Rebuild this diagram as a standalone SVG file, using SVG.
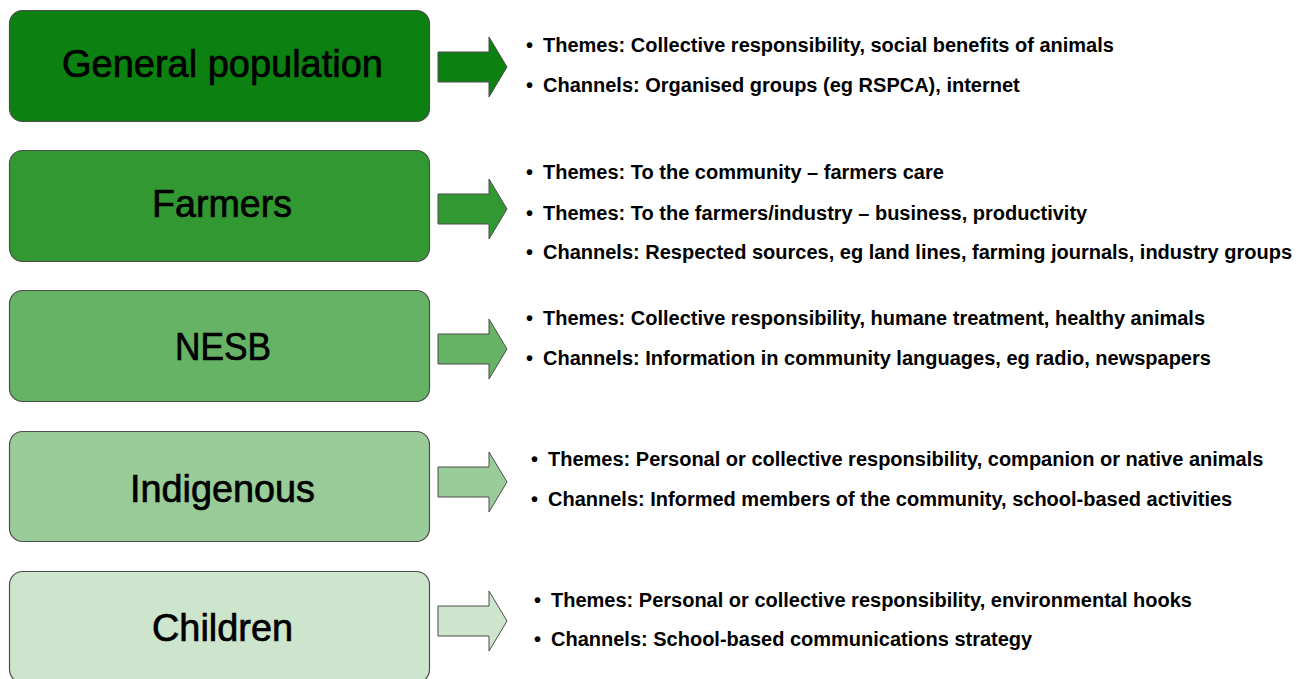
<svg xmlns="http://www.w3.org/2000/svg" width="1309" height="679" viewBox="0 0 1309 679">
  <style>
    .box { stroke: #4d4d4d; stroke-width: 1.2; }
    .arrow { stroke: #4d4d4d; stroke-width: 1; stroke-linejoin: miter; }
    .label { font-family: "Liberation Sans", Arial, sans-serif; font-size: 38px; fill: #000; stroke: #000; stroke-width: 0.7; }
    .item { font-family: "Liberation Sans", Arial, sans-serif; font-size: 20px; font-weight: bold; fill: #000; }
    .g1 { fill: #0c8011; }
    .g2 { fill: #329932; }
    .g3 { fill: #66b365; }
    .g4 { fill: #99cc98; }
    .g5 { fill: #cce5cc; }
  </style>
  <defs>
    <!-- block arrow pointing right, centred on y=0 -->
    <path id="blockArrow" d="M438,-15 H489 V-30 L507,0 L489,30 V15 H438 Z"/>
  </defs>
  <rect width="1309" height="679" fill="#ffffff"/>

  <g id="general-population">
    <rect class="box g1" x="9.5" y="10.5" width="420" height="111" rx="13"/>
    <text class="label" x="62" y="77" textLength="321" lengthAdjust="spacingAndGlyphs">General population</text>
  </g>
  <g id="farmers">
    <rect class="box g2" x="9.5" y="150.5" width="420" height="111" rx="13"/>
    <text class="label" x="152" y="217" textLength="140" lengthAdjust="spacingAndGlyphs">Farmers</text>
  </g>
  <g id="nesb">
    <rect class="box g3" x="9.5" y="290.5" width="420" height="111" rx="13"/>
    <text class="label" x="175" y="360" textLength="96" lengthAdjust="spacingAndGlyphs">NESB</text>
  </g>
  <g id="indigenous">
    <rect class="box g4" x="9.5" y="431.5" width="420" height="110" rx="13"/>
    <text class="label" x="130" y="502" textLength="185" lengthAdjust="spacingAndGlyphs">Indigenous</text>
  </g>
  <g id="children">
    <rect class="box g5" x="9.5" y="571.5" width="420" height="111" rx="13"/>
    <text class="label" x="152" y="641" textLength="141" lengthAdjust="spacingAndGlyphs">Children</text>
  </g>

  <g id="connectors">
    <use href="#blockArrow" class="arrow g1" transform="translate(0,67)"/>
    <use href="#blockArrow" class="arrow g2" transform="translate(0,209)"/>
    <use href="#blockArrow" class="arrow g3" transform="translate(0,349)"/>
    <use href="#blockArrow" class="arrow g4" transform="translate(0,482)"/>
    <use href="#blockArrow" class="arrow g5" transform="translate(0,621)"/>
  </g>

  <g id="general-population-notes" class="item">
    <text x="526" y="52">•</text>
    <text x="543" y="52">Themes: Collective responsibility, social benefits of animals</text>
    <text x="526" y="92">•</text>
    <text x="543" y="92">Channels: Organised groups (eg RSPCA), internet</text>
  </g>
  <g id="farmers-notes" class="item">
    <text x="526" y="179">•</text>
    <text x="543" y="179">Themes: To the community – farmers care</text>
    <text x="526" y="220">•</text>
    <text x="543" y="220">Themes: To the farmers/industry – business, productivity</text>
    <text x="526" y="259">•</text>
    <text x="543" y="259">Channels: Respected sources, eg land lines, farming journals, industry groups</text>
  </g>
  <g id="nesb-notes" class="item">
    <text x="526" y="325">•</text>
    <text x="543" y="325">Themes: Collective responsibility, humane treatment, healthy animals</text>
    <text x="526" y="365">•</text>
    <text x="543" y="365">Channels: Information in community languages, eg radio, newspapers</text>
  </g>
  <g id="indigenous-notes" class="item">
    <text x="531" y="466">•</text>
    <text x="548" y="466">Themes: Personal or collective responsibility, companion or native animals</text>
    <text x="531" y="506">•</text>
    <text x="548" y="506">Channels: Informed members of the community, school-based activities</text>
  </g>
  <g id="children-notes" class="item">
    <text x="534" y="607">•</text>
    <text x="551" y="607">Themes: Personal or collective responsibility, environmental hooks</text>
    <text x="534" y="646">•</text>
    <text x="551" y="646">Channels: School-based communications strategy</text>
  </g>
</svg>
